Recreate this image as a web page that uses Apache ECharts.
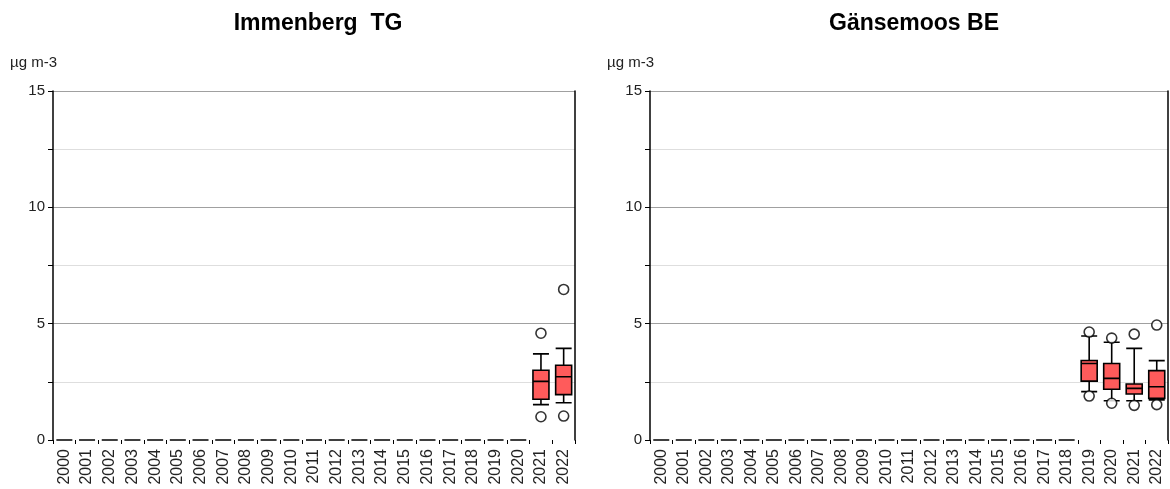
<!DOCTYPE html>
<html><head><meta charset="utf-8">
<script src="https://cdn.jsdelivr.net/npm/echarts@6/dist/echarts.min.js"></script>
<style>html,body{margin:0;padding:0;background:#fff}#c{width:1170px;height:489px}</style>
</head><body><div id="c"></div>
<script>
const years = ['2000','2001','2002','2003','2004','2005','2006','2007','2008','2009','2010','2011','2012','2013','2014','2015','2016','2017','2018','2019','2020','2021','2022'];
const titles = ['Immenberg  TG', 'Gänsemoos BE'];
const unitLabel = 'µg m-3';
const yTicks = [0, 5, 10, 15];
// [whiskerLow, Q1, median, Q3, whiskerHigh]; zeros = no data
const immenbergBoxes = {
  '2021': [1.52, 1.75, 2.52, 3.0, 3.70],
  '2022': [1.60, 1.95, 2.72, 3.21, 3.94]
};
const immenbergOutliers = [['2021', 4.59], ['2021', 1.0], ['2022', 6.47], ['2022', 1.03]];
const gaensemoosBoxes = {
  '2019': [2.08, 2.53, 3.29, 3.42, 4.47],
  '2020': [1.69, 2.18, 2.65, 3.29, 4.20],
  '2021': [1.69, 1.98, 2.22, 2.41, 3.94],
  '2022': [1.72, 1.79, 2.29, 2.98, 3.41]
};
const gaensemoosOutliers = [['2019', 4.64], ['2019', 1.89], ['2020', 4.38], ['2020', 1.58], ['2021', 4.55], ['2021', 1.49], ['2022', 4.94], ['2022', 1.52]];

function boxData(map) { return years.map(y => map[y] || [0, 0, 0, 0, 0]); }

const font = 'Liberation Sans, Arial, sans-serif';
const grids = [
  {left: 53, top: 91, width: 522, height: 349},
  {left: 650, top: 91, width: 518, height: 349}
];
const splitColors = ['rgba(0,0,0,0)', '#dedede', '#a0a0a0', '#dedede', '#a0a0a0', '#dedede', '#a0a0a0'];

function xAxis(i) {
  return {
    type: 'category', gridIndex: i, data: years, boundaryGap: true,
    axisLine: {show: false},
    axisTick: {show: true, alignWithLabel: false, length: 4, lineStyle: {color: '#000', width: 1}},
    axisLabel: {rotate: 90, fontSize: 16, color: '#222', fontFamily: font, margin: 9, interval: 0}
  };
}
function yAxisLeft(i) {
  return {
    type: 'value', gridIndex: i, min: 0, max: 15, interval: 2.5,
    axisLine: {show: true, lineStyle: {color: '#000', width: 1.5}},
    axisTick: {show: true, length: 5, lineStyle: {color: '#000'}},
    axisLabel: {fontSize: 15, color: '#222', fontFamily: font, margin: 8,
      formatter: v => yTicks.includes(v) ? String(v) : ''},
    splitLine: {show: true, lineStyle: {color: splitColors, width: 1.2}}
  };
}
function yAxisRight(i) {
  return {
    type: 'value', gridIndex: i, min: 0, max: 15, interval: 2.5, position: 'right',
    axisLine: {show: true, lineStyle: {color: '#000', width: 1.5}},
    axisTick: {show: false}, axisLabel: {show: false}, splitLine: {show: false}
  };
}
function boxSeries(i, map) {
  return {
    type: 'boxplot', xAxisIndex: i, yAxisIndex: i * 2, data: boxData(map),
    boxWidth: [16, 16],
    itemStyle: {color: '#ff5b5b', borderColor: '#000', borderWidth: 1.6},
    emphasis: {disabled: true}
  };
}
function outlierSeries(i, arr) {
  return {
    type: 'scatter', xAxisIndex: i, yAxisIndex: i * 2, data: arr,
    symbol: 'circle', symbolSize: 10,
    itemStyle: {color: '#fff', borderColor: '#000', borderWidth: 1.6}
  };
}

const option = {
  animation: false,
  title: [
    {text: titles[0], left: 313, top: 7, textAlign: 'center', textStyle: {fontSize: 23, fontWeight: 'bold', color: '#000', fontFamily: font}},
    {text: titles[1], left: 909, top: 7, textAlign: 'center', textStyle: {fontSize: 23, fontWeight: 'bold', color: '#000', fontFamily: font}},
    {text: unitLabel, left: 5, top: 50, textStyle: {fontSize: 15, fontWeight: 'normal', color: '#222', fontFamily: font}},
    {text: unitLabel, left: 602, top: 50, textStyle: {fontSize: 15, fontWeight: 'normal', color: '#222', fontFamily: font}}
  ],
  grid: grids,
  xAxis: [xAxis(0), xAxis(1)],
  yAxis: [yAxisLeft(0), yAxisRight(0), yAxisLeft(1), yAxisRight(1)],
  series: [
    boxSeries(0, immenbergBoxes), outlierSeries(0, immenbergOutliers),
    boxSeries(1, gaensemoosBoxes), outlierSeries(1, gaensemoosOutliers)
  ]
};
option.yAxis[1].gridIndex = 0; option.yAxis[3].gridIndex = 1;
const chart = echarts.init(document.getElementById('c'), null, {renderer: 'canvas'});
chart.setOption(option);
</script></body></html>
